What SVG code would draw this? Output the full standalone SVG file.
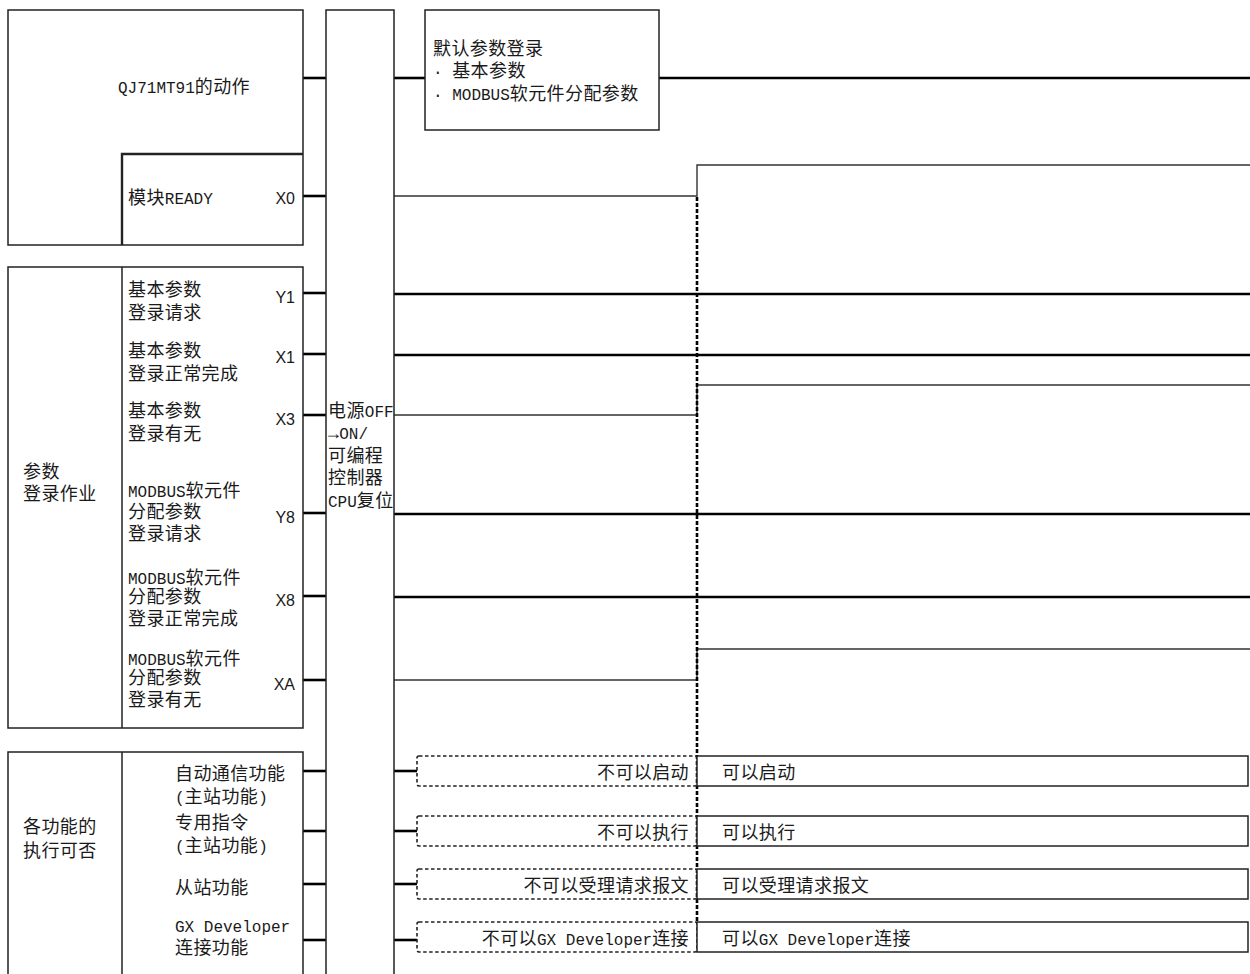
<svg xmlns="http://www.w3.org/2000/svg" width="1250" height="974" viewBox="0 0 1250 974">
<style>
.bg{fill:#fff}
.box{fill:#fff;stroke:#222;stroke-width:1.5}
.ln{fill:none;stroke:#222;stroke-width:1.5}
.thk{fill:none;stroke:#000;stroke-width:2.6}
.thn{fill:none;stroke:#333;stroke-width:1.4}
.dbox{fill:none;stroke:#222;stroke-width:1.6;stroke-dasharray:3.5 2.5}
.dot{fill:none;stroke:#000;stroke-width:2.6;stroke-dasharray:4 2}
.t{font-family:"Liberation Mono","Noto Sans CJK SC",monospace;font-size:18px;letter-spacing:0.4px;fill:#1a1a1a}
.l{font-size:16px;letter-spacing:0}
.s{font-family:"Liberation Sans",Arial,sans-serif;font-size:16px;fill:#1a1a1a}
.e{text-anchor:end}
</style>
<rect class="bg" x="0" y="0" width="1250" height="974"/>

<g id="connectors">
  <line class="thk" x1="303" y1="78" x2="326" y2="78"/>
  <line class="thk" x1="303" y1="196" x2="326" y2="196"/>
  <line class="thk" x1="303" y1="293" x2="326" y2="293"/>
  <line class="thk" x1="303" y1="354" x2="326" y2="354"/>
  <line class="thk" x1="303" y1="415" x2="326" y2="415"/>
  <line class="thk" x1="303" y1="513" x2="326" y2="513"/>
  <line class="thk" x1="303" y1="596" x2="326" y2="596"/>
  <line class="thk" x1="303" y1="680" x2="326" y2="680"/>
  <line class="thk" x1="303" y1="771" x2="326" y2="771"/>
  <line class="thk" x1="303" y1="831" x2="326" y2="831"/>
  <line class="thk" x1="303" y1="884" x2="326" y2="884"/>
  <line class="thk" x1="303" y1="940" x2="326" y2="940"/>
  <line class="thk" x1="394" y1="78" x2="425" y2="78"/>
  <line class="thk" x1="659" y1="78" x2="1250" y2="78"/>
  <polyline class="thn" points="394,196 697,196 697,165 1250,165"/>
  <line class="thk" x1="394" y1="294" x2="1250" y2="294"/>
  <line class="thk" x1="394" y1="355" x2="1250" y2="355"/>
  <polyline class="thn" points="394,415 697,415 697,385 1250,385"/>
  <line class="thk" x1="394" y1="514" x2="1250" y2="514"/>
  <line class="thk" x1="394" y1="597" x2="1250" y2="597"/>
  <polyline class="thn" points="394,680 697,680 697,649 1250,649"/>
  <line class="thk" x1="394" y1="771" x2="417" y2="771"/>
  <line class="thk" x1="394" y1="831" x2="417" y2="831"/>
  <line class="thk" x1="394" y1="884" x2="417" y2="884"/>
  <line class="thk" x1="394" y1="940" x2="417" y2="940"/>
  <line class="dot" x1="697" y1="197" x2="697" y2="922"/>
</g>

<g id="node-operation">
  <rect class="box" x="8" y="10" width="295" height="235"/>
  <text class="t" x="118" y="93"><tspan class="l">QJ71MT91</tspan>的动作</text>
</g>
<g id="node-ready">
  <polyline class="ln" points="122,245 122,154 303,154" style="stroke-width:2.4"/>
  <text class="t" x="128" y="204">模块<tspan class="l">READY</tspan></text>
  <text class="s e" x="295" y="204">X0</text>
</g>

<g id="node-param">
  <rect class="box" x="8" y="267" width="295" height="461"/>
  <line class="ln" x1="122" y1="267" x2="122" y2="728"/>
  <text class="t" x="23" y="478">参数</text>
  <text class="t" x="23" y="500">登录作业</text>
  <text class="t" x="128" y="296">基本参数</text>
  <text class="t" x="128" y="319">登录请求</text>
  <text class="s e" x="295" y="303">Y1</text>
  <text class="t" x="128" y="357">基本参数</text>
  <text class="t" x="128" y="380">登录正常完成</text>
  <text class="s e" x="295" y="363">X1</text>
  <text class="t" x="128" y="417">基本参数</text>
  <text class="t" x="128" y="440">登录有无</text>
  <text class="s e" x="295" y="425">X3</text>
  <text class="t" x="128" y="497"><tspan class="l">MODBUS</tspan>软元件</text>
  <text class="t" x="128" y="518">分配参数</text>
  <text class="t" x="128" y="540">登录请求</text>
  <text class="s e" x="295" y="523">Y8</text>
  <text class="t" x="128" y="584"><tspan class="l">MODBUS</tspan>软元件</text>
  <text class="t" x="128" y="603">分配参数</text>
  <text class="t" x="128" y="625">登录正常完成</text>
  <text class="s e" x="295" y="606">X8</text>
  <text class="t" x="128" y="665"><tspan class="l">MODBUS</tspan>软元件</text>
  <text class="t" x="128" y="684">分配参数</text>
  <text class="t" x="128" y="706">登录有无</text>
  <text class="s e" x="295" y="690">XA</text>
</g>

<g id="node-functions">
  <polyline class="box" points="8,980 8,752 303,752 303,980"/>
  <line class="ln" x1="122" y1="752" x2="122" y2="980"/>
  <text class="t" x="23" y="833">各功能的</text>
  <text class="t" x="23" y="857">执行可否</text>
  <text class="t" x="175" y="780">自动通信功能</text>
  <text class="t" x="175" y="803"><tspan class="l">(</tspan>主站功能<tspan class="l">)</tspan></text>
  <text class="t" x="175" y="829">专用指令</text>
  <text class="t" x="175" y="852"><tspan class="l">(</tspan>主站功能<tspan class="l">)</tspan></text>
  <text class="t" x="175" y="894">从站功能</text>
  <text class="t" x="175" y="932"><tspan class="l">GX Developer</tspan></text>
  <text class="t" x="175" y="954">连接功能</text>
</g>

<g id="node-reset">
  <polyline class="box" points="326,980 326,10 394,10 394,980"/>
  <text class="t" x="328" y="417">电源<tspan class="l">OFF</tspan></text>
  <text class="t" x="328" y="439">→<tspan class="l">ON/</tspan></text>
  <text class="t" x="328" y="462">可编程</text>
  <text class="t" x="328" y="484">控制器</text>
  <text class="t" x="328" y="507"><tspan class="l">CPU</tspan>复位</text>
</g>

<g id="node-default-param">
  <rect class="box" x="425" y="10" width="234" height="120"/>
  <text class="t" x="433" y="55">默认参数登录</text>
  <text class="t" x="433" y="77"><tspan class="l">· </tspan>基本参数</text>
  <text class="t" x="433" y="100"><tspan class="l">· MODBUS</tspan>软元件分配参数</text>
</g>

<g id="node-auto-comm">
  <rect class="dbox" x="417" y="756" width="280" height="30" rx="2"/>
  <text class="t e" x="689" y="779">不可以启动</text>
  <rect class="box" x="697" y="756" width="551" height="30"/>
  <text class="t" x="722" y="779">可以启动</text>
</g>
<g id="node-instr">
  <rect class="dbox" x="417" y="816" width="280" height="30" rx="2"/>
  <text class="t e" x="689" y="839">不可以执行</text>
  <rect class="box" x="697" y="816" width="551" height="30"/>
  <text class="t" x="722" y="839">可以执行</text>
</g>
<g id="node-slave">
  <rect class="dbox" x="417" y="869" width="280" height="30" rx="2"/>
  <text class="t e" x="689" y="892">不可以受理请求报文</text>
  <rect class="box" x="697" y="869" width="551" height="30"/>
  <text class="t" x="722" y="892">可以受理请求报文</text>
</g>
<g id="node-gx">
  <rect class="dbox" x="417" y="922" width="280" height="30" rx="2"/>
  <text class="t e" x="689" y="945">不可以<tspan class="l">GX Developer</tspan>连接</text>
  <rect class="box" x="697" y="922" width="551" height="30"/>
  <text class="t" x="722" y="945">可以<tspan class="l">GX Developer</tspan>连接</text>
</g>
</svg>
